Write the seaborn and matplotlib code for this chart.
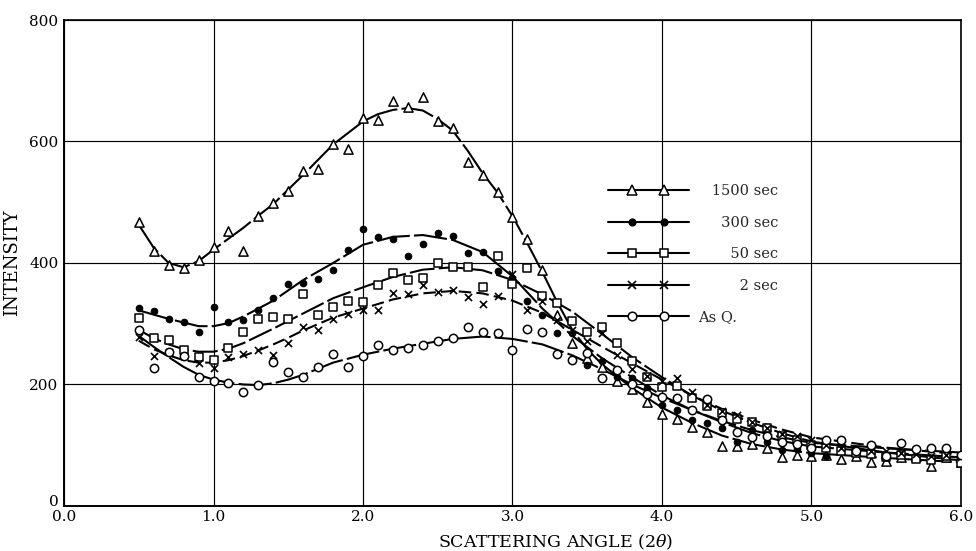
import numpy as np
import pandas as pd
import matplotlib
matplotlib.use("Agg")
import matplotlib.pyplot as plt
import matplotlib.transforms as mtransforms
import seaborn as sns
from matplotlib.lines import Line2D
from matplotlib.legend_handler import HandlerLine2D, HandlerTuple

# ---------------- data ----------------
angles = [0.5, 0.6, 0.7, 0.8, 0.9, 1.0, 1.1, 1.2, 1.3, 1.4,
          1.5, 1.6, 1.7, 1.8, 1.9, 2.0, 2.1, 2.2, 2.3, 2.4,
          2.5, 2.6, 2.7, 2.8, 2.9, 3.0, 3.1, 3.2, 3.3, 3.4,
          3.5, 3.6, 3.7, 3.8, 3.9, 4.0, 4.1, 4.2, 4.3, 4.4,
          4.5, 4.6, 4.7, 4.8, 4.9, 5.0, 5.1, 5.2, 5.3, 5.4,
          5.5, 5.6, 5.7, 5.8, 5.9, 6.0]

int_1500 = [467, 419, 397, 392, 405, 426, 453, 419, 477, 498,
            518, 551, 554, 596, 588, 638, 635, 667, 656, 673,
            633, 622, 566, 545, 517, 476, 439, 389, 315, 268,
            243, 228, 206, 193, 171, 152, 143, 130, 121, 98,
            98, 102, 96, 81, 84, 82, 84, 78, 82, 73,
            74, 80, 82, 66, 80, 72]

int_300 = [326, 321, 308, 303, 286, 327, 303, 306, 322, 342,
           365, 367, 373, 389, 421, 456, 443, 440, 412, 431,
           449, 445, 417, 418, 387, 376, 338, 314, 284, 284,
           232, 238, 212, 211, 194, 166, 158, 141, 136, 128,
           106, 125, 106, 92, 94, 88, 83, 92, 88, 85,
           82, 86, 80, 77, 82, 78]

int_50 = [309, 276, 273, 257, 246, 240, 260, 287, 308, 311,
          308, 349, 315, 328, 337, 335, 364, 383, 372, 375,
          400, 393, 393, 361, 412, 366, 391, 345, 334, 304,
          287, 294, 268, 238, 212, 196, 198, 177, 164, 153,
          143, 138, 128, 116, 108, 100, 96, 90, 88, 86,
          80, 84, 78, 76, 82, 70]

int_2 = [278, 247, 253, 247, 235, 227, 246, 251, 256, 249,
         268, 295, 290, 308, 316, 323, 322, 351, 349, 364,
         353, 356, 344, 332, 346, 382, 323, 337, 306, 290,
         271, 284, 248, 225, 214, 206, 210, 188, 166, 156,
         150, 139, 128, 118, 115, 108, 100, 96, 93, 90,
         91, 88, 85, 82, 84, 80]

int_q = [290, 227, 253, 247, 213, 206, 202, 187, 199, 237,
         220, 213, 229, 250, 228, 247, 265, 256, 260, 265,
         272, 277, 294, 287, 285, 256, 292, 286, 250, 240,
         252, 210, 224, 200, 185, 180, 177, 158, 176, 142,
         122, 113, 115, 106, 102, 95, 108, 109, 91, 100,
         82, 103, 93, 95, 95, 84]

# smooth curves as drawn on the chart (read at knots)
curve_1500_x = [0.5, 0.6, 0.7, 0.8, 0.9, 1.0, 1.1, 1.2, 1.3, 1.4, 1.6, 1.8, 2.0, 2.1,
                2.2, 2.3, 2.4, 2.5, 2.6, 2.7, 2.8, 2.9, 3.0, 3.1, 3.2, 3.3, 3.4, 3.5,
                3.6, 3.8, 4.0, 4.2, 4.4, 4.6, 4.8, 5.0, 5.5, 6.0]
curve_1500 = [463, 425, 400, 393, 403, 422, 440, 458, 478, 497, 545, 595, 633, 645,
              652, 655, 651, 637, 618, 585, 548, 516, 477, 432, 385, 335, 290, 258,
              233, 194, 162, 137, 116, 102, 93, 87, 79, 72]

curve_300_x = [0.5, 0.7, 0.9, 1.0, 1.1, 1.2, 1.4, 1.6, 1.8, 2.0, 2.2, 2.4, 2.6, 2.8,
               3.0, 3.2, 3.4, 3.6, 3.8, 4.0, 4.2, 4.4, 4.6, 4.8, 5.0, 5.5, 6.0]
curve_300 = [322, 308, 296, 296, 301, 312, 338, 372, 400, 430, 443, 446, 438, 418,
             378, 325, 280, 243, 212, 182, 158, 138, 120, 107, 98, 88, 80]

curve_50_x = [0.5, 0.6, 0.7, 0.8, 0.9, 1.0, 1.1, 1.2, 1.4, 1.6, 1.8, 2.0, 2.2, 2.4,
              2.6, 2.8, 3.0, 3.2, 3.4, 3.6, 3.8, 4.0, 4.2, 4.4, 4.6, 4.8, 5.0, 5.5, 6.0]
curve_50 = [290, 276, 266, 258, 254, 254, 259, 268, 292, 317, 342, 360, 377, 389,
            393, 388, 372, 348, 320, 283, 245, 212, 182, 157, 137, 120, 106, 88, 75]

curve_2_x = [0.5, 0.6, 0.7, 0.8, 0.9, 1.0, 1.1, 1.2, 1.3, 1.4, 1.5, 1.6, 1.8, 2.0,
             2.2, 2.4, 2.6, 2.8, 3.0, 3.2, 3.4, 3.6, 3.8, 4.0, 4.2, 4.4, 4.6, 4.8,
             5.0, 5.5, 6.0]
curve_2 = [272, 258, 248, 240, 236, 236, 240, 247, 256, 266, 277, 289, 310, 325,
           340, 350, 354, 350, 338, 318, 290, 262, 235, 208, 182, 160, 142, 126,
           113, 96, 85]

curve_q_x = [0.5, 0.6, 0.7, 0.8, 0.9, 1.0, 1.1, 1.2, 1.3, 1.4, 1.5, 1.6, 1.8, 2.0,
             2.2, 2.4, 2.6, 2.8, 3.0, 3.2, 3.4, 3.6, 3.8, 4.0, 4.2, 4.4, 4.6, 4.8,
             5.0, 5.5, 6.0]
curve_q = [280, 262, 245, 229, 216, 208, 203, 200, 199, 202, 208, 216, 236, 249,
           259, 267, 275, 279, 275, 266, 248, 225, 200, 178, 158, 140, 125, 113,
           104, 95, 88]

series_labels = ["   1500 sec", "     300 sec", "       50 sec", "         2 sec", "As Q."]
x_ticks = [0, 1, 2, 3, 4, 5, 6]
x_tick_labels = ["0.0", "1.0", "2.0", "3.0", "4.0", "5.0", "6.0"]
y_ticks = [0, 200, 400, 600, 800]
y_tick_labels = ["0", "200", "400", "600", "800"]
x_label = "SCATTERING ANGLE (2$\\theta$)"
y_label = "INTENSITY"

# ---------------- style ----------------
sns.set_theme(style="white")
plt.rcParams['font.family'] = ['DejaVu Serif']
plt.rcParams['mathtext.fontset'] = 'dejavuserif'

fig = plt.figure(figsize=(9.76, 5.51), dpi=100)
ax = fig.add_axes([0.0656, 0.0817, 0.919, 0.882])

marker_specs = [
    dict(marker='^', s=44, facecolor='white', edgecolor='black', linewidth=1.1),
    dict(marker='o', s=22, facecolor='black', edgecolor='black', linewidth=0.8),
    dict(marker='s', s=28, facecolor='white', edgecolor='black', linewidth=1.1),
    dict(marker='x', s=26, color='black', linewidth=1.2),
    dict(marker='o', s=36, facecolor='white', edgecolor='black', linewidth=1.1),
]
line_dashes = [(16, 2), (16, 2), (12, 2), (6, 2.5), (16, 2)]

values = [int_1500, int_300, int_50, int_2, int_q]
curves = [(curve_1500_x, curve_1500), (curve_300_x, curve_300), (curve_50_x, curve_50),
          (curve_2_x, curve_2), (curve_q_x, curve_q)]

for (cx, cy), dsh in zip(curves, line_dashes):
    sns.lineplot(x=cx, y=cy, ax=ax, color='black', linewidth=1.5,
                 sort=False, estimator=None, zorder=2)
    ax.lines[-1].set_dashes(dsh)

for vals, spec in zip(values, marker_specs):
    sns.scatterplot(x=angles, y=vals, ax=ax, zorder=3, legend=False, **spec)

ax.set_xlim(0, 6)
ax.set_ylim(0, 800)
ax.set_xticks(x_ticks)
ax.set_xticklabels(x_tick_labels)
ax.set_yticks(y_ticks)
ax.set_yticklabels(y_tick_labels)
ax.grid(True, color='black', linewidth=0.85)
ax.set_axisbelow(True)
ax.tick_params(axis='both', length=0, labelsize=11, colors='black')
ax.tick_params(axis='x', pad=3)
ax.tick_params(axis='y', pad=4)
for name, sp in ax.spines.items():
    sp.set_color('black')
    sp.set_linewidth(1.4 if name in ('left', 'bottom') else 1.2)

# lift the "0" y label a bit so it sits above "0.0"
zero_lbl = ax.get_yticklabels()[0]
zero_lbl.set_transform(zero_lbl.get_transform() +
                       mtransforms.ScaledTranslation(0, 5 / 100, fig.dpi_scale_trans))

ax.set_xlabel(x_label, fontsize=12.5, labelpad=4, color='black')
ax.xaxis.set_label_coords(0.548, -0.055)
ax.set_ylabel(y_label, fontsize=13, labelpad=6, color='black')

# legend: line spanning full handle, markers inset
handles = []
hmap = {}
for spec in marker_specs:
    base = Line2D([], [], color='black', lw=1.5)
    if spec['marker'] == 'x':
        mk = Line2D([], [], linestyle='none', color='black', marker='x', markersize=5.5,
                    markeredgewidth=1.2)
    else:
        ms = {'^': 7, 's': 5.5}.get(spec['marker'], 6.2 if spec['facecolor'] == 'white' else 4.8)
        mk = Line2D([], [], linestyle='none', marker=spec['marker'], markersize=ms,
                    markerfacecolor=spec['facecolor'], markeredgecolor='black',
                    markeredgewidth=1.1)
    hmap[mk] = HandlerLine2D(numpoints=2, marker_pad=1.7)
    handles.append((base, mk))
hmap[tuple] = HandlerTuple(ndivide=1, pad=0)

leg = ax.legend(handles, series_labels, loc='upper left', bbox_to_anchor=(0.606, 0.662),
                frameon=False, fontsize=10.5, handlelength=5.6, handletextpad=0.6,
                labelspacing=1.2, borderpad=0, borderaxespad=0, handler_map=hmap)

fig.savefig("out.png", dpi=100)
